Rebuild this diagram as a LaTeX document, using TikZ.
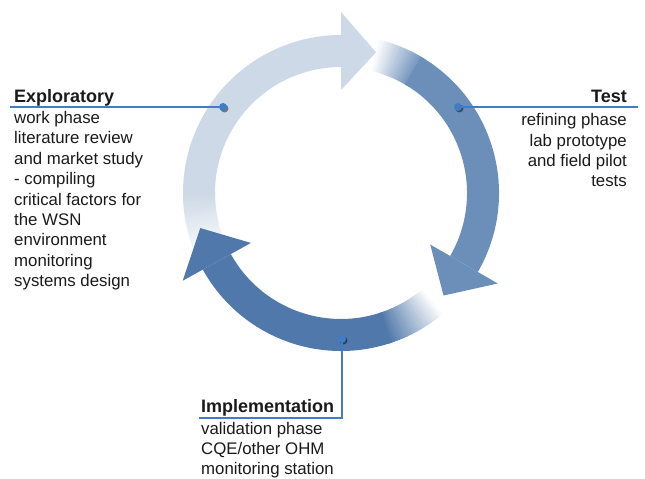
\documentclass[tikz,border=0pt]{standalone}
\usepackage{fontspec}
\setmainfont{Liberation Sans}
\usetikzlibrary{positioning,calc,shadows}
\definecolor{pale}{RGB}{205,217,230}
\definecolor{mid}{RGB}{108,143,186}
\definecolor{deep}{RGB}{80,120,170}
\definecolor{pin}{RGB}{64,125,198}
\definecolor{ink}{RGB}{26,26,26}
\tikzset{
  ttl/.style={inner sep=0pt, text=ink, font=\fontsize{18}{20}\selectfont\bfseries},
  txt/.style={inner sep=0pt, text=ink, font=\fontsize{16.8}{20.4}\selectfont},
  dot/.style={circle, fill=pin, inner sep=0pt, minimum size=8pt,
    drop shadow={shadow xshift=1.5pt, shadow yshift=-1.5pt, opacity=.45, fill=black}},
  lead/.style={draw=pin, line width=1.1pt}
}
% piece of the ring between two angles
\newcommand{\ringpart}[3]{%
  \fill[#3] (#1:158pt) arc[start angle=#1, end angle=#2, radius=158pt]
    -- (#2:126pt) arc[start angle=#2, end angle=#1, radius=126pt] -- cycle;}
% arrow head: base angle, tip angle
\newcommand{\ringhead}[3]{%
  \fill[#3] (#1:103pt) -- (#1:181pt) -- (#2:145pt) -- cycle;}
\begin{document}
\begin{tikzpicture}[x=1pt,y=1pt]
  \useasboundingbox (0,0) rectangle (645,479);
  \begin{scope}[shift={(341,286)}]
    % mid arrow, right side
    \foreach \i in {0,...,17} {
      \pgfmathtruncatemacro\p{5.5*\i+4}
      \ringpart{76-\i}{75.4-\i-1}{mid!\p!white}
    }
    \ringpart{59.5}{-30}{mid}
    \ringhead{-30}{-45}{mid}
    % light arrow, left to top
    \foreach \i in {0,...,24} {
      \pgfmathtruncatemacro\p{4*\i+4}
      \ringpart{205-\i}{204-\i-0.4}{pale!\p!white}
    }
    \ringpart{181}{90}{pale}
    \ringhead{90}{76}{pale}
    % dark arrow, bottom
    \foreach \i in {0,...,21} {
      \pgfmathtruncatemacro\p{4.5*\i+4}
      \ringpart{-50-\i}{-51-\i-0.4}{deep!\p!white}
    }
    \ringpart{-71.5}{-151}{deep}
    \ringhead{-151}{-166}{deep}
  \end{scope}
  %
  \node[dot] (pexp) at (223,372) {};
  \node[dot] (ptest) at (458,372) {};
  \node[dot] (pimp) at (342,140) {};
  \coordinate (lexp) at (10,372);
  \coordinate (ltest) at (638,372);
  \coordinate (limp) at (199,61);
  \draw[lead] (pexp) -- (lexp);
  \draw[lead] (ptest) -- (ltest);
  \draw[lead] (pimp) |- (limp);
  %
  \node[ttl, anchor=base west] (texp) at (14,376) {Exploratory};
  \node[txt, align=left, anchor=base west] (bexp) at (14,192.3)
    {work phase\\literature review\\and market study\\- compiling\\critical factors for\\the WSN\\environment\\monitoring\\systems design};
  \node[ttl, anchor=base east] (ttest) at (627,376) {Test};
  \node[txt, align=right, anchor=base east] (btest) at (627,292)
    {refining phase\\lab prototype\\and field pilot\\tests};
  \node[ttl, anchor=base west] (timp) at (201,66) {Implementation};
  \node[txt, align=left, anchor=base west] (bimp) at (201,4.2)
    {validation phase\\CQE/other OHM\\monitoring station};
\end{tikzpicture}
\end{document}
